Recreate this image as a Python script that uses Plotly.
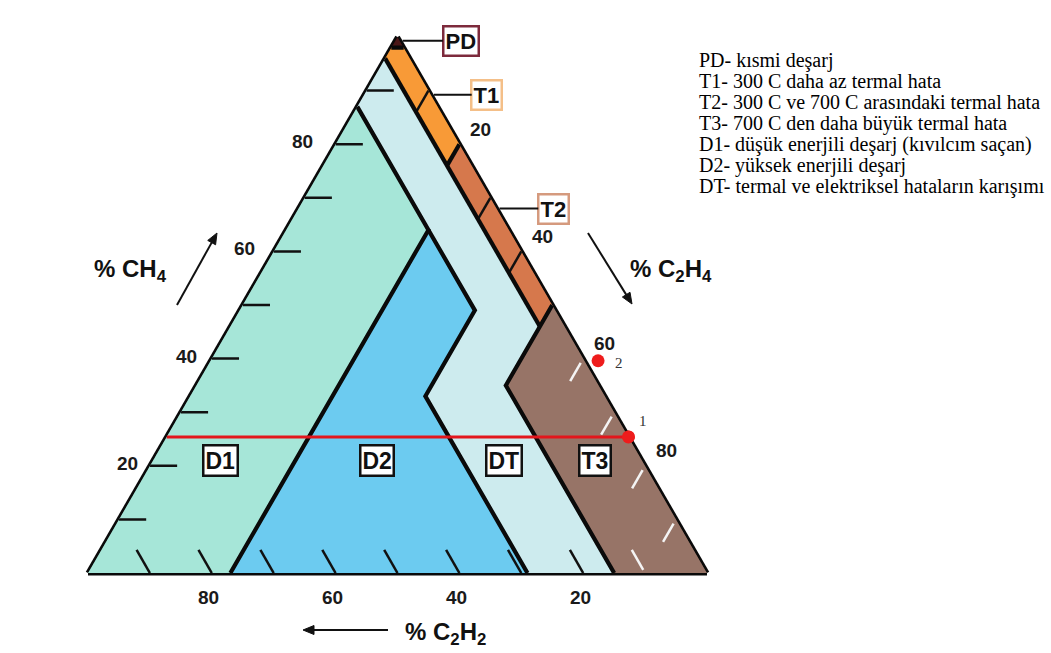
import math
import plotly.graph_objects as go

FIG_W, FIG_H = 1051, 653

# Ternary components: a = %CH4 (top), b = %C2H2 (bottom left), c = %C2H4 (bottom right)
# Zone polygons, vertices given as (CH4, C2H2, C2H4)
zone_pd = [(100, 0, 0), (98, 2, 0), (98, 0, 2)]
zone_t1 = [(98, 0, 2), (98, 2, 0), (96, 4, 0), (76, 4, 20), (80, 0, 20)]
zone_t2 = [(80, 0, 20), (76, 4, 20), (46, 4, 50), (50, 0, 50)]
zone_t3 = [(50, 0, 50), (46, 4, 50), (35, 15, 50), (0, 15, 85), (0, 0, 100)]
zone_d1 = [(87, 13, 0), (0, 100, 0), (0, 77, 23), (64, 13, 23)]
zone_d2 = [(64, 13, 23), (0, 77, 23), (0, 29, 71), (33, 29, 38), (49, 13, 38)]
zone_dt = [(96, 4, 0), (87, 13, 0), (64, 13, 23), (49, 13, 38), (33, 29, 38),
           (0, 29, 71), (0, 15, 85), (35, 15, 50), (46, 4, 50)]

# Zone borders
border_paths = [
    [(98, 2, 0), (98, 0, 2)],
    [(96, 4, 0), (46, 4, 50)],
    [(80, 0, 20), (76, 4, 20)],
    [(50, 0, 50), (46, 4, 50), (35, 15, 50), (0, 15, 85)],
    [(87, 13, 0), (64, 13, 23), (0, 77, 23)],
    [(64, 13, 23), (49, 13, 38), (33, 29, 38), (0, 29, 71)],
]

# Axis ticks (percent)
ch4_ticks = [10, 20, 30, 40, 50, 60, 70, 80, 90]
c2h2_ticks_dark = [20, 30, 40, 50, 60, 70, 80, 90]
c2h2_ticks_light = [10]
c2h4_ticks_band = [10, 30, 40]
c2h4_ticks_light = [60, 70, 80, 90]
tick_labels = [20, 40, 60, 80]

# Zone labels and their anchor points (CH4, C2H2, C2H4)
zone_label_text = ["D1", "D2", "DT", "T3"]
zone_label_pos = [(20.9, 68.1, 11.0), (20.9, 42.9, 36.2), (20.9, 22.4, 56.7), (20.9, 7.7, 71.4)]
callout_text = ["PD", "T1", "T2"]
callout_c2h4 = [0.7, 10.8, 32.0]
callout_dx = [58, 53, 54]

# Sample gas analyses
sample_ch4 = [25.4, 39.6]
sample_c2h2 = [0.0, -2.2]
sample_c2h4 = [74.6, 62.6]
sample_names = ["1", "2"]

legend_lines = [
    "PD- kısmi deşarj",
    "T1- 300 C daha az termal hata",
    "T2- 300 C ve 700 C arasındaki termal hata",
    "T3- 700 C den daha büyük termal hata",
    "D1- düşük enerjili deşarj (kıvılcım saçan)",
    "D2- yüksek enerjili deşarj",
    "DT- termal ve elektriksel hataların karışımı",
]

zone_colors = {
    "PD": "#4b1717", "T1": "#f89a37", "T2": "#d6784c", "T3": "#977467",
    "D1": "#a6e6d8", "D2": "#6ccbf0", "DT": "#cdebee",
}
callout_border = {"PD": "#7d2a3c", "T1": "#f4bf88", "T2": "#d59a7e"}
SAMPLE_RED = "#ee1c1c"

SANS = "Liberation Sans, Arial, sans-serif"
SERIF = "Liberation Serif, Times New Roman, serif"

DOM_X = [88 / FIG_W, 707 / FIG_W]
DOM_Y = [1 - 574 / FIG_H, 1 - 36 / FIG_H]


def triangle_box():
    """Pixel box of the ternary triangle, laid out the way plotly fits it in its domain."""
    w_over_h = 2 / math.sqrt(3)
    wmax = (DOM_X[1] - DOM_X[0]) * FIG_W
    hmax = (DOM_Y[1] - DOM_Y[0]) * FIG_H
    if wmax > w_over_h * hmax:
        h = hmax
        w = h * w_over_h
    else:
        w = wmax
        h = w / w_over_h
    x0 = FIG_W * (DOM_X[0] + DOM_X[1]) / 2 - w / 2
    y0 = FIG_H * (1 - (DOM_Y[0] + DOM_Y[1]) / 2) - h / 2
    return x0, y0, w, h


TX0, TY0, TW, TH = triangle_box()


def tern_px(a, b, c):
    s = a + b + c
    a, b, c = a / s, b / s, c / s
    return TX0 + TW * (c + a / 2), TY0 + TH * (1 - a)


def to_paper(x, y):
    return x / FIG_W, 1 - y / FIG_H


def flatten(paths):
    a, b, c = [], [], []
    for p in paths:
        for pa, pb, pc in p:
            a.append(pa)
            b.append(pb)
            c.append(pc)
        a.append(None)
        b.append(None)
        c.append(None)
    return a, b, c


def line_trace(paths, color, width):
    a, b, c = flatten(paths)
    return go.Scatterternary(a=a, b=b, c=c, mode="lines",
                             line=dict(color=color, width=width),
                             hoverinfo="skip", showlegend=False)


fig = go.Figure()

# Samples in the triangle's own x/y frame (x = C2H4 - C2H2, y = CH4), so points
# lying just outside the triangle stay visible
fig.add_trace(go.Scatter(
    x=[c - b for b, c in zip(sample_c2h2, sample_c2h4)], y=sample_ch4,
    mode="markers", marker=dict(color=SAMPLE_RED, size=13, line=dict(width=0)),
    text=sample_names, hoverinfo="text", showlegend=False, cliponaxis=False))

# Filled zones
for name, poly in [("D1", zone_d1), ("D2", zone_d2), ("DT", zone_dt), ("T3", zone_t3),
                   ("T2", zone_t2), ("T1", zone_t1), ("PD", zone_pd)]:
    closed = poly + [poly[0]]
    fig.add_trace(go.Scatterternary(
        a=[p[0] for p in closed], b=[p[1] for p in closed], c=[p[2] for p in closed],
        mode="lines", fill="toself", fillcolor=zone_colors[name],
        line=dict(color=zone_colors[name], width=0.5),
        name=name, hoverinfo="name", showlegend=False))

TL = 4.3  # tick length in percent units
left_ticks = [[(v, 100 - v, 0), (v, 100 - v - 4.4, 4.4)] for v in ch4_ticks]
bottom_dark = [[(0, v, 100 - v), (TL, v, 100 - v - TL)] for v in c2h2_ticks_dark]
bottom_light = [[(0.6, v, 99.4 - v), (TL, v, 100 - v - TL)] for v in c2h2_ticks_light]
band_ticks = [[(100 - v, 0, v), (96 - v, 4, v)] for v in c2h4_ticks_band]
right_light = [[(99.2 - v, 0.8, v), (100 - v - 4.2, 4.2, v)] for v in c2h4_ticks_light]

fig.add_trace(line_trace(left_ticks + bottom_dark + band_ticks, "#111111", 2.5))
fig.add_trace(line_trace(bottom_light + right_light, "#f4f4f4", 2.5))

# Zone borders
fig.add_trace(line_trace(border_paths, "#0a0a0a", 4.2))

# Constant-CH4 line through sample 1
fig.add_trace(go.Scatterternary(
    a=[sample_ch4[0], sample_ch4[0]], b=[100 - sample_ch4[0], sample_c2h2[0]],
    c=[0, sample_c2h4[0]], mode="lines", line=dict(color="#e3161c", width=3),
    hoverinfo="skip", showlegend=False))

# Samples on top of the triangle
fig.add_trace(go.Scatterternary(
    a=sample_ch4, b=sample_c2h2, c=sample_c2h4, mode="markers",
    marker=dict(color=SAMPLE_RED, size=13, line=dict(width=0)),
    text=sample_names, hoverinfo="text", showlegend=False, cliponaxis=False))

axis_style = dict(showline=True, linecolor="#0a0a0a", linewidth=5, layer="below traces",
                  showgrid=False, showticklabels=False, ticks="", title=dict(text=""), min=0)

annotations = []
shapes = []


def add_text(x, y, text, size, family=SANS, color="#1a1a1a", xanchor="center", **kw):
    px, py = to_paper(x, y)
    annotations.append(dict(x=px, y=py, xref="paper", yref="paper", text=text,
                            showarrow=False, xanchor=xanchor, yanchor="middle",
                            font=dict(family=family, size=size, color=color), **kw))


def add_arrow(tail, tip, color="#111111", width=2, head_len=11, head_half=4.5):
    dx, dy = tip[0] - tail[0], tip[1] - tail[1]
    n = math.hypot(dx, dy)
    ux, uy = dx / n, dy / n
    bx, by = tip[0] - ux * head_len, tip[1] - uy * head_len
    x0, y0 = to_paper(*tail)
    x1, y1 = to_paper(bx + ux * 2, by + uy * 2)
    shapes.append(dict(type="line", xref="paper", yref="paper", x0=x0, y0=y0, x1=x1, y1=y1,
                       line=dict(color=color, width=width)))
    pts = [tip, (bx - uy * head_half, by + ux * head_half), (bx + uy * head_half, by - ux * head_half)]
    pp = [to_paper(*p) for p in pts]
    path = "M{},{} L{},{} L{},{} Z".format(pp[0][0], pp[0][1], pp[1][0], pp[1][1], pp[2][0], pp[2][1])
    shapes.append(dict(type="path", xref="paper", yref="paper", path=path,
                       fillcolor=color, line=dict(color=color, width=1)))


# Tick labels
for v in tick_labels:
    x, y = tern_px(v, 100 - v, 0)
    add_text(x - 22 - (v - 20) * 0.18, y - 2.5, f"<b>{v}</b>", 19)
    x, y = tern_px(100 - v, 0, v)
    add_text(x + 21, y - 15, f"<b>{v}</b>", 19)
    x, y = tern_px(0, v, 100 - v)
    add_text(x - 3, y + 24, f"<b>{v}</b>", 19)

# Zone labels
for txt, pos in zip(zone_label_text, zone_label_pos):
    x, y = tern_px(*pos)
    add_text(x, y, f"<b>{txt}</b>", 23, color="#111111", bgcolor="white",
             bordercolor="#111111", borderwidth=2.5, borderpad=1)

# Callouts
for txt, cv, dx in zip(callout_text, callout_c2h4, callout_dx):
    x, y = tern_px(100 - cv, 0, cv)
    px, py = to_paper(x + 3, y)
    annotations.append(dict(
        x=px, y=py, xref="paper", yref="paper", text=f"<b>{txt}</b>",
        showarrow=True, arrowhead=0, arrowwidth=2, arrowcolor="#111111",
        ax=dx, ay=0, standoff=0, xanchor="center", yanchor="middle",
        font=dict(family=SANS, size=22, color="#111111"), bgcolor="white",
        bordercolor=callout_border[txt], borderwidth=2.5, borderpad=1))

# Sample numbers
for i, name in enumerate(sample_names):
    x, y = tern_px(sample_ch4[i], sample_c2h2[i], sample_c2h4[i])
    off = (15, -16) if i == 0 else (21, 2)
    add_text(x + off[0], y + off[1], name, 15, family=SERIF, color="#333333")

# Axis titles
add_text(130, 270, "<b>% CH<sub>4</sub></b>", 24, color="#111111")
add_text(671, 270, "<b>% C<sub>2</sub>H<sub>4</sub></b>", 24, color="#111111")
add_text(445, 633, "<b>% C<sub>2</sub>H<sub>2</sub></b>", 24, color="#111111")

# Direction arrows
add_arrow((177, 305), (217, 233))
add_arrow((588, 233), (632, 304))
add_arrow((388, 630), (303, 630))

# Zone descriptions
for i, line in enumerate(legend_lines):
    add_text(697, 60 + 21.1 * i, line, 20, family=SERIF, color="#000000", xanchor="left")

fig.update_layout(
    width=FIG_W, height=FIG_H,
    margin=dict(l=0, r=0, t=0, b=0),
    paper_bgcolor="white", plot_bgcolor="rgba(0,0,0,0)",
    showlegend=False,
    xaxis=dict(visible=False, range=[-100, 100], fixedrange=True,
               domain=[TX0 / FIG_W, (TX0 + TW) / FIG_W]),
    yaxis=dict(visible=False, range=[0, 100], fixedrange=True,
               domain=[1 - (TY0 + TH) / FIG_H, 1 - TY0 / FIG_H]),
    ternary=dict(sum=100, domain=dict(x=DOM_X, y=DOM_Y), bgcolor="white",
                 aaxis=axis_style, baxis=axis_style, caxis=axis_style),
    annotations=annotations,
    shapes=shapes,
)

fig.write_html("out.html")
